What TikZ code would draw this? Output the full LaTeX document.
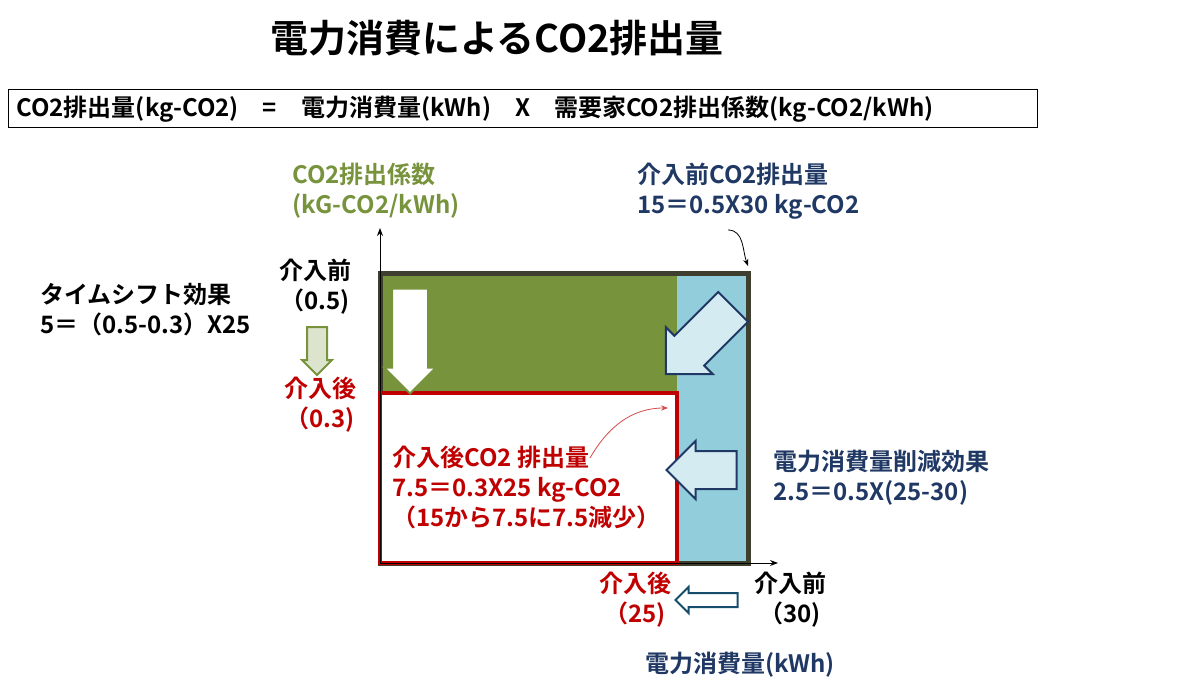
\documentclass[tikz,border=0pt]{standalone}
\usepackage{fontspec}
\setmainfont{Noto Sans CJK JP}[BoldFont={* Bold}]
\usetikzlibrary{shapes.arrows,arrows.meta}
\definecolor{leaf}{HTML}{77933C}
\definecolor{sky}{HTML}{92CDDC}
\definecolor{navy}{HTML}{1F3864}
\definecolor{brick}{HTML}{C00000}
\definecolor{frame}{HTML}{3F3F2F}
\tikzset{
  txt/.style={font=\bfseries\fontsize{24}{30}\selectfont, align=left, inner sep=0pt},
  fat/.style={single arrow, draw, line width=2pt, inner xsep=0pt}
}
\begin{document}
\begin{tikzpicture}[x=1pt,y=-1pt]
\useasboundingbox (0,0) rectangle (1200,698);
% title and formula
\node[font=\bfseries\fontsize{38}{44}\selectfont] (title) at (497,38) {電力消費によるCO2排出量};
\node[draw, line width=1pt, minimum width=1029pt, minimum height=38pt, anchor=west, txt, inner xsep=8pt, text width=1013pt] (formula) at (8,109)
  {CO2排出量(kg-CO2)\quad=\quad 電力消費量(kWh)\quad X\quad 需要家CO2排出係数(kg-CO2/kWh)};
% areas
\fill[leaf] (380,273) rectangle (677,393);
\fill[sky] (677,273) rectangle (748,563);
\draw[frame, line width=5pt] (380,273) rectangle (748,563);
\draw[brick, line width=4.5pt, fill=white] (380,393) rectangle (677,563);
% axes
\coordinate (o) at (380,563);
\coordinate (ytop) at (380,228);
\coordinate (xend) at (778,563);
\draw[line width=1pt, -{Stealth[length=8pt]}] (o) -- (ytop);
\draw[line width=1pt, -{Stealth[length=8pt]}] (o) -- (xend);
% block arrows
\node[fat, draw=leaf, fill=white, inner ysep=17pt, minimum height=105pt, single arrow head extend=8pt, rotate=-90] (timeshift) at (410,332) {};
\node[fat, draw=leaf, fill=leaf!25, inner ysep=9pt, minimum height=48pt, single arrow head extend=5pt, rotate=-90] (small) at (317,346) {};
\node[fat, draw=navy, fill=sky!40, inner ysep=20pt, minimum height=95pt, single arrow head extend=12pt, rotate=-135] (diag) at (707,333) {};
\node[fat, draw=navy, fill=sky!40, inner ysep=18pt, minimum height=70pt, single arrow head extend=10pt, rotate=180] (cut) at (711,470) {};
\node[fat, draw=navy!70!teal, fill=white, inner ysep=6pt, minimum height=62pt, single arrow head extend=6pt, rotate=180] (xarrow) at (710,600) {};
% labels
\node[txt, leaf, anchor=north west] (ylabel) at (292,163) {CO2排出係数\\(kG-CO2/kWh)};
\node[txt, navy, anchor=north west] (before) at (637,163) {介入前CO2排出量\\15＝0.5X30 kg-CO2};
\node[txt, anchor=north west] (effect) at (40,283) {タイムシフト効果\\5＝（0.5-0.3）X25};
\node[txt, align=center] (y0) at (315,287) {介入前\\（0.5)};
\node[txt, brick, align=center] (y1) at (320,405) {介入後\\（0.3)};
\node[txt, brick, anchor=north west] (after) at (392,446) {介入後CO2 排出量\\7.5＝0.3X25 kg-CO2\\（15から7.5に7.5減少）};
\node[txt, navy, anchor=north west] (saving) at (773,450) {電力消費量削減効果\\2.5＝0.5X(25-30)};
\node[txt, brick, align=center] (x1) at (635,600) {介入後\\（25)};
\node[txt, align=center] (x0) at (790,600) {介入前\\（30)};
\node[txt, navy] (xlabel) at (740,665) {電力消費量(kWh)};
% pointers
\coordinate (bt) at (748,266);
\draw[line width=0.8pt, -{Stealth[length=7pt]}] (728,230) to[out=0,in=110] (bt);
\coordinate (rt) at (668,408);
\draw[brick!70, line width=0.8pt, -{Stealth[length=7pt]}] (590,458) to[out=60,in=180] (rt);
\end{tikzpicture}
\end{document}
